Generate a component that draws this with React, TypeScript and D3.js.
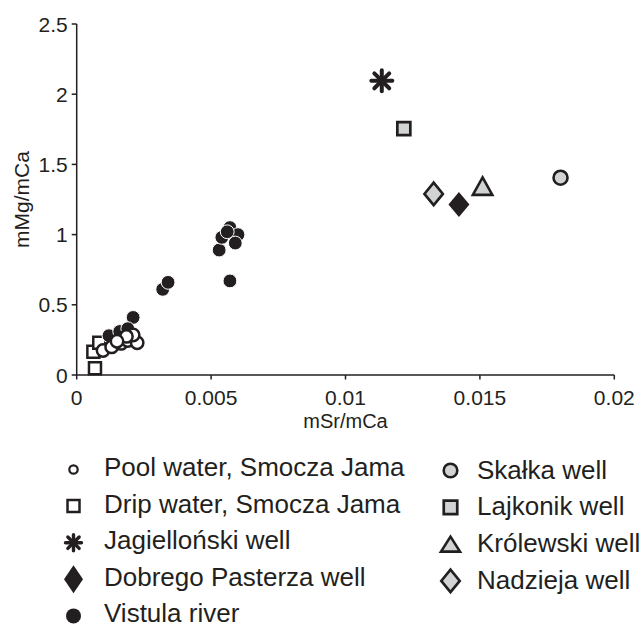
import React from "react";
import * as d3 from "d3";

// ---- data ----
const poolX = [0.00098, 0.0013, 0.00165, 0.0019, 0.00225, 0.0021, 0.00185, 0.0015];
const poolY = [0.175, 0.2, 0.225, 0.245, 0.23, 0.285, 0.275, 0.24];

const dripX = [0.00068, 0.00062, 0.00084];
const dripY = [0.048, 0.166, 0.23];

const vistulaX = [0.0012, 0.0016, 0.0021, 0.0019, 0.0032, 0.0034, 0.0053, 0.0054, 0.0057, 0.0060, 0.0059, 0.0057, 0.0056];
const vistulaY = [0.28, 0.31, 0.41, 0.33, 0.61, 0.66, 0.89, 0.98, 1.05, 1.0, 0.94, 0.67, 1.02];

const jagX = [0.01135];
const jagY = [2.095];
const lajX = [0.01217];
const lajY = [1.755];
const nadX = [0.01328];
const nadY = [1.29];
const dobX = [0.01422];
const dobY = [1.215];
const krolX = [0.0151];
const krolY = [1.345];
const skalX = [0.018];
const skalY = [1.405];

const xTicks = [0, 0.005, 0.01, 0.015, 0.02];
const xTickLabels = ["0", "0.005", "0.01", "0.015", "0.02"];
const yTicks = [0, 0.5, 1, 1.5, 2, 2.5];
const yTickLabels = ["0", "0.5", "1", "1.5", "2", "2.5"];

const xTitle = "mSr/mCa";
const yTitle = "mMg/mCa";

const legendLeft = ["Pool water, Smocza Jama", "Drip water, Smocza Jama", "Jagielloński well", "Dobrego Pasterza well", "Vistula river"];
const legendLeftKeys = ["pool", "drip", "jag", "dob", "vis"];
const legendRight = ["Skałka well", "Lajkonik well", "Królewski well", "Nadzieja well"];
const legendRightKeys = ["skal", "laj", "krol", "nad"];

// ---- styling ----
const INK = "#231f20";
const GRAY = "#d1d3d4";
const FONT = "'Liberation Sans', Arial, Helvetica, sans-serif";

const x = d3.scaleLinear().domain([0, 0.02]).range([76.7, 614.3]);
const y = d3.scaleLinear().domain([0, 2.5]).range([375, 24]);

const sq = (s: number) => `M${-s / 2},${-s / 2}h${s}v${s}h${-s}Z`;
const dia = (w: number, h: number) => `M0,${-h / 2}L${w / 2},0L0,${h / 2}L${-w / 2},0Z`;
const tri = (w: number, h: number) => `M0,${-h / 2}L${w / 2},${h / 2}L${-w / 2},${h / 2}Z`;

function Asterisk({ r, sw }: { r: number; sw: number }) {
  const angles = [0, 45, 90, 135];
  return (
    <g>
      {angles.map((a) => {
        const rad = (a * Math.PI) / 180;
        return (
          <line key={a} x1={-r * Math.cos(rad)} y1={-r * Math.sin(rad)} x2={r * Math.cos(rad)} y2={r * Math.sin(rad)}
            stroke={INK} strokeWidth={sw} strokeLinecap="round" />
        );
      })}
      <circle r={sw * 0.9} fill={INK} />
    </g>
  );
}

function Marker({ kind, legend }: { kind: string; legend?: boolean }) {
  switch (kind) {
    case "pool":
      return legend
        ? <circle r={4.2} fill="#fff" stroke={INK} strokeWidth={2.2} />
        : <circle r={6.2} fill="#fff" stroke={INK} strokeWidth={2.5} />;
    case "drip":
      return <path d={sq(legend ? 12 : 12)} fill="#fff" stroke={INK} strokeWidth={2.5} />;
    case "vis":
      return legend
        ? <circle r={7.5} fill={INK} />
        : <circle r={6.9} fill={INK} stroke="#fff" strokeWidth={1} />;
    case "jag":
      return <Asterisk r={legend ? 8 : 10.5} sw={legend ? 3.4 : 4} />;
    case "dob":
      return <path d={legend ? dia(19, 28) : dia(21, 25)} fill={INK} />;
    case "skal":
      return <circle r={legend ? 6.8 : 7} fill={GRAY} stroke={INK} strokeWidth={2.6} />;
    case "laj":
      return <path d={sq(legend ? 13.5 : 13)} fill={GRAY} stroke={INK} strokeWidth={2.7} />;
    case "krol":
      return <path d={legend ? tri(19, 15) : tri(19.5, 17.5)} fill={GRAY} stroke={INK} strokeWidth={2.6} strokeLinejoin="miter" />;
    case "nad":
      return <path d={legend ? dia(18.5, 22.5) : dia(18.5, 22.5)} fill={GRAY} stroke={INK} strokeWidth={2.6} />;
    default:
      return null;
  }
}

function Series({ xs, ys, kind }: { xs: number[]; ys: number[]; kind: string }) {
  return (
    <g>
      {xs.map((v, i) => (
        <g key={i} transform={`translate(${x(v)},${y(ys[i])})`}>
          <Marker kind={kind} />
        </g>
      ))}
    </g>
  );
}

export default function App() {
  const [x0, x1] = x.range();
  const [y0, y1] = y.range();
  return (
    <svg width={642} height={626} style={{ position: "absolute", left: 0, top: 0, background: "#fff" }}
      fontFamily={FONT}>
      <rect width={642} height={626} fill="#fff" />
      {/* axes */}
      <line x1={x0} x2={x1} y1={y0} y2={y0} stroke={INK} strokeWidth={1.5} />
      <line x1={x0} x2={x0} y1={y0} y2={y1} stroke={INK} strokeWidth={1.5} />
      {xTicks.map((t, i) => (
        <g key={i} transform={`translate(${x(t)},${y0})`}>
          <line y1={0} y2={4.5} stroke={INK} strokeWidth={1.5} />
          <text y={30} textAnchor="middle" fontSize={21} fill={INK}>{xTickLabels[i]}</text>
        </g>
      ))}
      {yTicks.map((t, i) => (
        <g key={i} transform={`translate(${x0},${y(t)})`}>
          <line x1={0} x2={-5} stroke={INK} strokeWidth={1.5} />
          <text x={-9} dy="0.36em" textAnchor="end" fontSize={21} fill={INK}>{yTickLabels[i]}</text>
        </g>
      ))}
      <text x={(x0 + x1) / 2} y={428} textAnchor="middle" fontSize={20} fill={INK}>{xTitle}</text>
      <text transform={`translate(29,${(y0 + y1) / 2}) rotate(-90)`} textAnchor="middle" fontSize={21} fill={INK}>{yTitle}</text>

      {/* data */}
      <Series xs={dripX} ys={dripY} kind="drip" />
      <Series xs={vistulaX} ys={vistulaY} kind="vis" />
      <Series xs={poolX} ys={poolY} kind="pool" />
      <Series xs={jagX} ys={jagY} kind="jag" />
      <Series xs={lajX} ys={lajY} kind="laj" />
      <Series xs={nadX} ys={nadY} kind="nad" />
      <Series xs={dobX} ys={dobY} kind="dob" />
      <Series xs={krolX} ys={krolY} kind="krol" />
      <Series xs={skalX} ys={skalY} kind="skal" />

      {/* legend */}
      {legendLeft.map((lab, i) => {
        const my = 469.5 + i * 36.6;
        return (
          <g key={lab}>
            <g transform={`translate(73.5,${my})`}><Marker kind={legendLeftKeys[i]} legend /></g>
            <text x={104} y={my + 6.5} fontSize={26} fill={INK}>{lab}</text>
          </g>
        );
      })}
      {legendRight.map((lab, i) => {
        const my = 470.5 + i * 36.8;
        return (
          <g key={lab}>
            <g transform={`translate(450.5,${my})`}><Marker kind={legendRightKeys[i]} legend /></g>
            <text x={477} y={my + 8} fontSize={26} fill={INK}>{lab}</text>
          </g>
        );
      })}
    </svg>
  );
}
